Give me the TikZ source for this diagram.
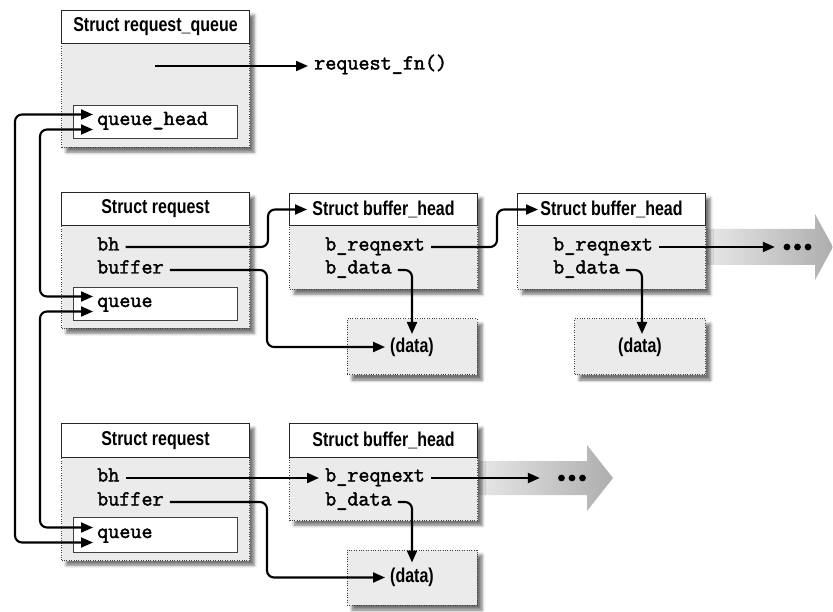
\documentclass[tikz,border=0pt]{standalone}
\usepackage{fontspec}
\newfontfamily\hdfont[FakeStretch=0.8]{Liberation Sans}
\newfontfamily\cmono[FakeBold=2]{Latin Modern Mono}
\usetikzlibrary{arrows.meta,shadows.blur,calc}
\tikzset{
  sbox/.style={minimum width=188pt, inner sep=0pt, anchor=north west,
    blur shadow={shadow xshift=5pt, shadow yshift=-5pt, shadow blur radius=3pt, shadow opacity=55}},
  hdr/.style={draw=black!85, line width=1pt, fill=white, minimum width=188pt, minimum height=33pt,
    inner sep=0pt, anchor=north west, font=\hdfont\bfseries\fontsize{20}{22}\selectfont},
  bodyb/.style={draw=black!75, line width=1pt, dash pattern={on 1pt off 1.4pt}, fill=black!8,
    minimum width=188pt, inner sep=0pt, anchor=north west},
  inbox/.style={draw=black!75, line width=1pt, fill=white, minimum width=164pt, minimum height=33pt,
    inner sep=0pt, anchor=north west},
  mono/.style={font=\cmono\fontsize{21.5}{24}\selectfont, inner xsep=6pt, inner ysep=1pt,
    text height=9.5pt, text depth=2.5pt, anchor=west},
  datab/.style={draw=black!75, line width=1pt, dash pattern={on 1pt off 1.4pt}, fill=black!8,
    inner sep=0pt, minimum width=130pt, minimum height=56pt,
    font=\hdfont\bfseries\fontsize{20}{22}\selectfont,
    blur shadow={shadow xshift=5pt, shadow yshift=-5pt, shadow blur radius=3pt, shadow opacity=55}},
  conn/.style={line width=2.1pt, -{Triangle[length=12pt,width=10pt]}, rounded corners=7pt},
  conn2/.style={line width=2.1pt, {Triangle[length=12pt,width=10pt]}-{Triangle[length=12pt,width=10pt]}, rounded corners=7pt},
  bigarrow/.style={left color=black!8, right color=black!32, draw=none},
  dotsn/.style={inner sep=0pt, minimum height=8pt},
}
\begin{document}
\begin{tikzpicture}[x=1pt,y=-1pt]
\useasboundingbox (0,0) rectangle (833,612);

% big shaded arrows
\path[bigarrow] (700,229) -- (815,229) -- (815,214) -- (833,247) -- (815,280) -- (815,265) -- (700,265) -- cycle;
\path[bigarrow] (470,461) -- (587,461) -- (587,445) -- (613,478) -- (587,511) -- (587,495) -- (470,495) -- cycle;

% ---- struct request_queue
\node[sbox, minimum height=137pt] (rq) at (61,10) {};
\node[bodyb, minimum height=104pt] (rqb) at (61,43) {};
\node[hdr] (rqh) at (61,10) {Struct request\_queue};
\node[inbox] (qhbox) at (73,105) {};
\node[mono] (qh) at (91,121.5) {queue\_head};
\coordinate (fnsrc) at (155,66);
\node[mono] (fn) at (308,66) {request\_fn()};

% ---- struct request (row 2)
\node[sbox, minimum height=136pt] (rq2) at (61,192) {};
\node[bodyb, minimum height=103pt] (rqb2) at (61,225) {};
\node[hdr] (rqh2) at (61,192) {Struct request};
\node[inbox] (qbox2) at (73,287) {};
\node[mono] (q2) at (91,303.5) {queue};
\node[mono] (bh2) at (91,247) {bh};
\node[mono] (buf2) at (91,270) {buffer};

% ---- buffer_head 1
\node[sbox, minimum height=96pt] (bf1) at (289,193) {};
\node[bodyb, minimum height=64pt] (bfb1) at (289,225) {};
\node[hdr, minimum height=32pt] (bfh1) at (289,193) {Struct buffer\_head};
\node[mono] (brn1) at (319,247) {b\_reqnext};
\node[mono] (bd1) at (319,270) {b\_data};

% ---- buffer_head 2
\node[sbox, minimum height=96pt] (bf2) at (517,193) {};
\node[bodyb, minimum height=64pt] (bfb2) at (517,225) {};
\node[hdr, minimum height=32pt] (bfh2) at (517,193) {Struct buffer\_head};
\node[mono] (brn2) at (547,247) {b\_reqnext};
\node[mono] (bd2) at (547,270) {b\_data};

% ---- data boxes row 2
\node[datab] (d1) at (412,347) {(data)};
\node[datab, minimum width=131pt] (d2) at (640,347) {(data)};

% ---- struct request (row 3)
\node[sbox, minimum height=137pt] (rq3) at (61,423) {};
\node[bodyb, minimum height=103pt] (rqb3) at (61,457) {};
\node[hdr, minimum height=34pt] (rqh3) at (61,423) {Struct request};
\node[inbox, minimum height=35pt] (qbox3) at (73,517) {};
\node[mono] (q3) at (91,534.5) {queue};
\node[mono] (bh3) at (91,478) {bh};
\node[mono] (buf3) at (91,502) {buffer};

% ---- buffer_head 3
\node[sbox, minimum height=97pt] (bf3) at (289,423) {};
\node[bodyb, minimum height=63pt] (bfb3) at (289,457) {};
\node[hdr, minimum height=34pt] (bfh3) at (289,423) {Struct buffer\_head};
\node[mono] (brn3) at (319,478) {b\_reqnext};
\node[mono] (bd3) at (319,502) {b\_data};

\node[datab, minimum height=55pt] (d3) at (412,577.5) {(data)};

% ---- dots
\node[dotsn, minimum width=45pt] (dots1) at (797.5,247) {};
\node[dotsn, minimum width=64pt] (dots2) at (572,478) {};
\foreach \d in {-10.5,0,10.5} {
  \fill ($(dots1.center)+(\d,0)$) circle (3.4pt);
  \fill ($(dots2.center)+(\d,0)$) circle (3.4pt);
}

% ---- helper coordinates
\coordinate (ra) at (15,0);
\coordinate (rb) at (40,0);
\coordinate (k1) at (268,0);
\coordinate (k2) at (497,0);
\coordinate (k3) at (267,0);
\coordinate (qhA) at ($(qhbox.west)+(20,-7.5)$);
\coordinate (qhB) at ($(qhbox.west)+(20,7.5)$);
\coordinate (q2A) at ($(qbox2.west)+(20,-7.5)$);
\coordinate (q2B) at ($(qbox2.west)+(20,7.5)$);
\coordinate (q3A) at ($(qbox3.west)+(20,-7.5)$);
\coordinate (q3B) at ($(qbox3.west)+(20,7.5)$);
\coordinate (t1) at ($(bfh1.west)+(18,0)$);
\coordinate (t2) at ($(bfh2.west)+(21,0)$);
\coordinate (dt1) at ($(d1.center)+(-27,0)$);
\coordinate (dt3) at ($(d3.center)+(-27,0)$);
\coordinate (dv1) at ($(d1.center)+(0,-13)$);
\coordinate (dv2) at ($(d2.center)+(2,-13)$);
\coordinate (dv3) at ($(d3.center)+(0,-15)$);

% ---- connectors
\draw[conn] (fnsrc) -- (fn.west);
\draw[conn2] (qhA) -| (ra|-q3B) -- (q3B);
\draw[conn2] (qhB) -| (rb|-q2A) -- (q2A);
\draw[conn2] (q2B) -| (rb|-q3A) -- (q3A);
\draw[conn] (bh2.east) -| (k1|-t1) -- (t1);
\draw[conn] (brn1.east) -| (k2|-t2) -- (t2);
\draw[conn] (buf2.east) -| (k3|-dt1) -- (dt1);
\draw[conn] (bd1.east) -| (dv1);
\draw[conn] (bd2.east) -| (dv2);
\draw[conn] (brn2.east) -- (dots1.west);
\draw[conn] (bh3.east) -- (brn3.west);
\draw[conn] (brn3.east) -- (dots2.west);
\draw[conn] (buf3.east) -| (k3|-dt3) -- (dt3);
\draw[conn] (bd3.east) -| (dv3);
\end{tikzpicture}
\end{document}
